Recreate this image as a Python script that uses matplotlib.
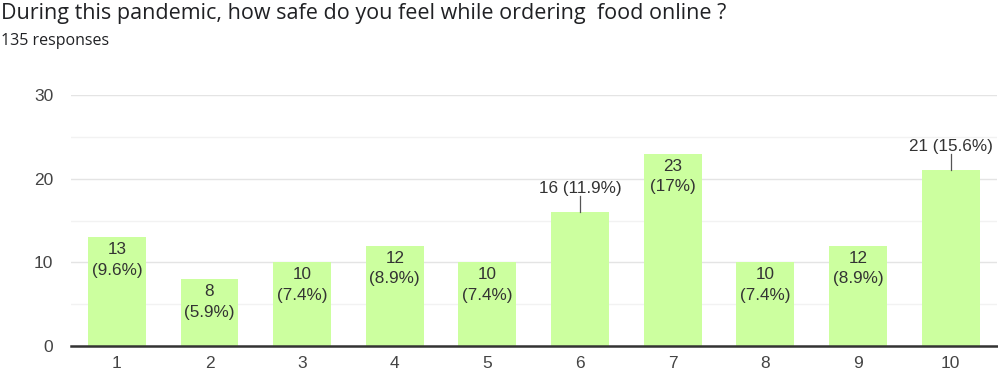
import matplotlib.pyplot as plt

categories = ['1', '2', '3', '4', '5', '6', '7', '8', '9', '10']
counts = [13, 8, 10, 12, 10, 16, 23, 10, 12, 21]
pcts = ['9.6%', '5.9%', '7.4%', '8.9%', '7.4%', '11.9%', '17%', '7.4%', '8.9%', '15.6%']
outside = [False, False, False, False, False, True, False, False, False, True]

W, H = 998, 374
fig = plt.figure(figsize=(W / 100, H / 100), dpi=100)
ax = fig.add_axes([70.5 / W, 1 - 346 / H, 926.5 / W, 251 / H])

x = list(range(len(categories)))
ax.bar(x, counts, width=0.625, color='#ccff9f', zorder=2)
ax.set_xlim(-0.5, len(categories) - 0.5)
ax.set_ylim(0, 30)
ax.set_yticks([0, 10, 20, 30])
ax.set_yticks([5, 15, 25], minor=True)
ax.set_xticks(x)
ax.set_xticklabels(categories)
ax.grid(axis='y', which='major', color='#e4e4e4', lw=1, zorder=0)
ax.grid(axis='y', which='minor', color='#f2f2f2', lw=1, zorder=0)
for s in ['left', 'right', 'top']:
    ax.spines[s].set_visible(False)
ax.spines['bottom'].set_color('#333333')
ax.spines['bottom'].set_linewidth(1.8)
ax.spines['bottom'].set_zorder(3)
ax.tick_params(axis='both', which='both', length=0, labelsize=12.5, labelcolor='#444444',
               labelfontfamily='Liberation Sans')
ax.tick_params(axis='x', pad=7)
ax.tick_params(axis='y', pad=12.5)

px = 30 / 251  # data units per pixel
lab = dict(ha='center', va='center', fontsize=12.3, color='#333333',
           family='Liberation Sans', zorder=4)
for i, (c, p) in enumerate(zip(counts, pcts)):
    if outside[i]:
        ax.plot([i, i], [c, c + 16 * px], color='#555555', lw=0.9, zorder=3)
        ax.text(i, c + 24 * px, f'{c} ({p})', **lab)
    else:
        ax.text(i, c - 12.5 * px, f'{c}', **lab)
        ax.text(i, c - 33 * px, f'({p})', **lab)

fig.text(1 / W, 1 - 14 / H, 'During this pandemic, how safe do you feel while ordering  food online ?',
         ha='left', va='center', fontsize=15.5, color='#202124', family='Open Sans')
fig.text(1 / W, 1 - 41 / H, '135 responses', ha='left', va='center', fontsize=11.5,
         color='#202124', family='Open Sans')

fig.savefig('out.png', dpi=100)
